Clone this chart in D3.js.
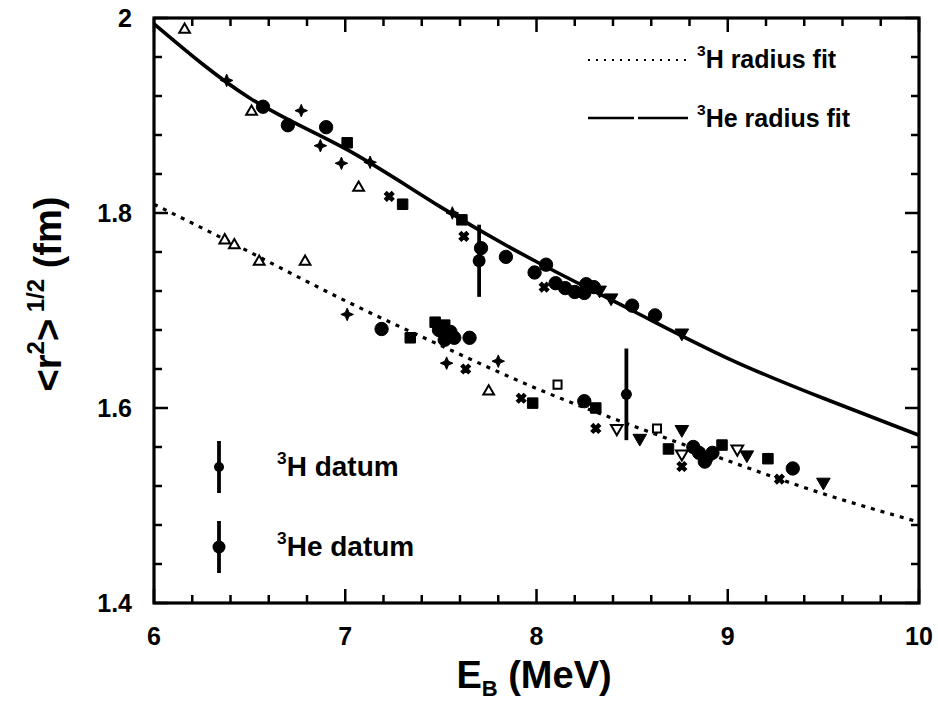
<!DOCTYPE html>
<html><head><meta charset="utf-8">
<script src="https://cdn.jsdelivr.net/npm/d3@7"></script>
<style>
html,body{margin:0;padding:0;background:#fff;}
svg text{font-family:"Liberation Sans",Arial,sans-serif;font-weight:bold;fill:#000;}
</style></head>
<body><svg id="c" width="938" height="708"></svg>
<script>
// ---------- data ----------
const xTicks = [6, 7, 8, 9, 10];
const yTicks = [1.4, 1.6, 1.8, 2.0];
const yTickLabels = ["1.4", "1.6", "1.8", "2"];
const fitEnergies = [6, 6.5, 7, 7.5, 8, 8.5, 9, 9.5, 10];
const heFit = [1.994, 1.918, 1.866, 1.806, 1.750, 1.700, 1.651, 1.610, 1.572];
const hFit  = [1.809, 1.760, 1.710, 1.664, 1.620, 1.582, 1.546, 1.512, 1.483];

const openTriUp = [[6.16,1.988],[6.51,1.904],[7.07,1.826],[6.37,1.772],[6.42,1.767],[6.55,1.750],[6.79,1.750],[7.75,1.617]];
const stars = [[6.38,1.936],[6.77,1.905],[6.87,1.869],[6.98,1.851],[7.13,1.852],[7.56,1.800],[7.01,1.696],[7.53,1.646],[7.80,1.648]];
const xMarks = [[7.23,1.817],[7.62,1.776],[8.04,1.724],[7.63,1.640],[7.92,1.610],[8.31,1.579],[8.76,1.540],[9.27,1.527]];
const filledSquares = [[7.01,1.872],[7.30,1.809],[7.61,1.793],[7.34,1.672],[7.47,1.688],[7.52,1.685],[7.98,1.605],[8.31,1.600],[8.69,1.558],[8.97,1.562],[9.21,1.548]];
const filledCircles = [[6.57,1.909],[6.70,1.890],[6.90,1.888],[7.71,1.764],[7.84,1.755],[7.99,1.739],[8.05,1.747],
  [8.10,1.728],[8.15,1.723],[8.20,1.719],[8.25,1.718],[8.30,1.724],[8.26,1.727],[8.50,1.705],[8.62,1.695],
  [7.19,1.681],[7.49,1.680],[7.55,1.678],[7.57,1.672],[7.52,1.670],[7.65,1.672],[8.25,1.607],
  [8.82,1.560],[8.85,1.554],[8.89,1.549],[8.92,1.554],[8.88,1.545],[9.34,1.538]];
const filledDownTri = [[8.33,1.721],[8.39,1.713],[8.76,1.677],[8.54,1.569],[8.76,1.578],[9.10,1.552],[9.50,1.524]];
const openDownTri = [[8.42,1.579],[8.76,1.553],[9.05,1.558]];
const openSquares = [[8.11,1.624],[8.63,1.579]];
const heDatum = {E: 7.70, r: 1.751, err: 0.037};
const hDatum  = {E: 8.47, r: 1.614, err: 0.047};

// ---------- layout ----------
const svg = d3.select("#c");
const L = 154, R = 919, T = 18, B = 603;
const x = d3.scaleLinear().domain([6, 10]).range([L, R]);
const y = d3.scaleLinear().domain([1.4, 2.0]).range([B, T]);

// frame
svg.append("rect").attr("x", L).attr("y", T).attr("width", R - L).attr("height", B - T)
  .attr("fill", "none").attr("stroke", "#000").attr("stroke-width", 3.2);

// ticks (inward, mirrored)
const xMinor = d3.range(6, 10.001, 0.2);
const yMinor = d3.range(1.4, 2.0001, 0.04);
const isMajX = v => Math.abs(v - Math.round(v)) < 1e-6;
const isMajY = v => Math.abs(v * 5 - Math.round(v * 5)) < 1e-6;
const tk = svg.append("g").attr("stroke", "#000").attr("stroke-width", 2.5);
xMinor.forEach(v => {
  const len = isMajX(v) ? 14 : 8;
  tk.append("line").attr("x1", x(v)).attr("x2", x(v)).attr("y1", B).attr("y2", B - len);
  tk.append("line").attr("x1", x(v)).attr("x2", x(v)).attr("y1", T).attr("y2", T + len);
});
yMinor.forEach(v => {
  const len = isMajY(v) ? 14 : 8;
  tk.append("line").attr("x1", L).attr("x2", L + len).attr("y1", y(v)).attr("y2", y(v));
  tk.append("line").attr("x1", R).attr("x2", R - len).attr("y1", y(v)).attr("y2", y(v));
});

// tick labels
svg.append("g").selectAll("text").data(xTicks).join("text")
  .attr("x", d => x(d)).attr("y", 645).attr("text-anchor", "middle")
  .attr("font-size", 25).text(d => d);
svg.append("g").selectAll("text").data(yTicks).join("text")
  .attr("x", 132).attr("y", d => y(d) + 9).attr("text-anchor", "end")
  .attr("font-size", 25).text((d, i) => yTickLabels[i]);

// axis titles
const xt = svg.append("text").attr("x", 534).attr("y", 688).attr("text-anchor", "middle").attr("font-size", 38);
xt.append("tspan").text("E");
xt.append("tspan").attr("font-size", 22).attr("dy", 8).text("B");
xt.append("tspan").attr("dy", -8).text(" (MeV)");

const yt = svg.append("text").attr("transform", "translate(61,294) rotate(-90)").attr("text-anchor", "middle").attr("font-size", 38);
yt.append("tspan").text("<r");
yt.append("tspan").attr("font-size", 24).attr("dy", -17).text("2");
yt.append("tspan").attr("dy", 17).text(">");
yt.append("tspan").attr("font-size", 24).attr("dy", -17).text(" 1/2");
yt.append("tspan").attr("dy", 17).text(" (fm)");

// fit curves
const fitLine = vals => d3.line().curve(d3.curveNatural)
  .x((d, i) => x(fitEnergies[i])).y(d => y(d))(vals);
svg.append("path").attr("d", fitLine(heFit)).attr("fill", "none")
  .attr("stroke", "#000").attr("stroke-width", 3.6);
svg.append("path").attr("d", fitLine(hFit)).attr("fill", "none")
  .attr("stroke", "#000").attr("stroke-width", 3.2).attr("stroke-dasharray", "4,6");

// four-pointed star symbol
const star4 = {
  draw(ctx, size) {
    const r = Math.sqrt(size) * 0.75, k = r * 0.3;
    ctx.moveTo(0, -r); ctx.lineTo(k, -k); ctx.lineTo(r, 0); ctx.lineTo(k, k);
    ctx.lineTo(0, r); ctx.lineTo(-k, k); ctx.lineTo(-r, 0); ctx.lineTo(-k, -k); ctx.closePath();
  }
};

// markers
const g = svg.append("g");
const sym = (data, type, size, filled, rot) => {
  g.selectAll(null).data(data).join("path")
    .attr("transform", d => `translate(${x(d[0])},${y(d[1])})${rot ? " rotate(" + rot + ")" : ""}`)
    .attr("d", d3.symbol().type(type).size(size)())
    .attr("fill", filled ? "#000" : "#fff").attr("stroke", "#000").attr("stroke-width", filled ? 1 : 2);
};
sym(openTriUp, d3.symbolTriangle, 50, false, 0);
sym(stars, star4, 70, true, 0);
sym(xMarks, d3.symbolCross, 60, true, 45);
sym(filledSquares, d3.symbolSquare, 110, true, 0);
sym(filledCircles, d3.symbolCircle, 140, true, 0);
sym(filledDownTri, d3.symbolTriangle, 80, true, 180);
sym(openDownTri, d3.symbolTriangle, 60, false, 180);
sym(openSquares, d3.symbolSquare, 65, false, 0);

// error-bar data
[[heDatum, 6.5], [hDatum, 5.5]].forEach(([d, r]) => {
  g.append("line").attr("x1", x(d.E)).attr("x2", x(d.E)).attr("y1", y(d.r - d.err)).attr("y2", y(d.r + d.err))
    .attr("stroke", "#000").attr("stroke-width", 3.8);
  g.append("circle").attr("cx", x(d.E)).attr("cy", y(d.r)).attr("r", r).attr("fill", "#000");
});

// legend top-right
const lg = svg.append("g");
lg.append("line").attr("x1", 588).attr("x2", 690).attr("y1", 60).attr("y2", 60)
  .attr("stroke", "#000").attr("stroke-width", 1.8).attr("stroke-dasharray", "2,6");
lg.append("line").attr("x1", 588).attr("x2", 634).attr("y1", 118).attr("y2", 118).attr("stroke", "#000").attr("stroke-width", 2.5);
lg.append("line").attr("x1", 638).attr("x2", 688).attr("y1", 118).attr("y2", 118).attr("stroke", "#000").attr("stroke-width", 2.5);
const lt = (xx, yy, main, fs) => {
  const t = svg.append("text").attr("x", xx).attr("y", yy).attr("font-size", fs);
  t.append("tspan").attr("font-size", fs * 0.62).attr("dy", -12).text("3");
  t.append("tspan").attr("dy", 12).text(main);
};
lt(697, 68, "H radius fit", 25);
lt(697, 127, "He radius fit", 25);

// legend bottom-left
[[467, 5], [547, 6.5]].forEach(([cy, r]) => {
  svg.append("line").attr("x1", 219).attr("x2", 219).attr("y1", cy - 26).attr("y2", cy + 26)
    .attr("stroke", "#000").attr("stroke-width", 3.8);
  svg.append("circle").attr("cx", 219).attr("cy", cy).attr("r", r).attr("fill", "#000");
});
lt(277, 476, "H datum", 28);
lt(277, 556, "He datum", 28);
</script></body></html>
